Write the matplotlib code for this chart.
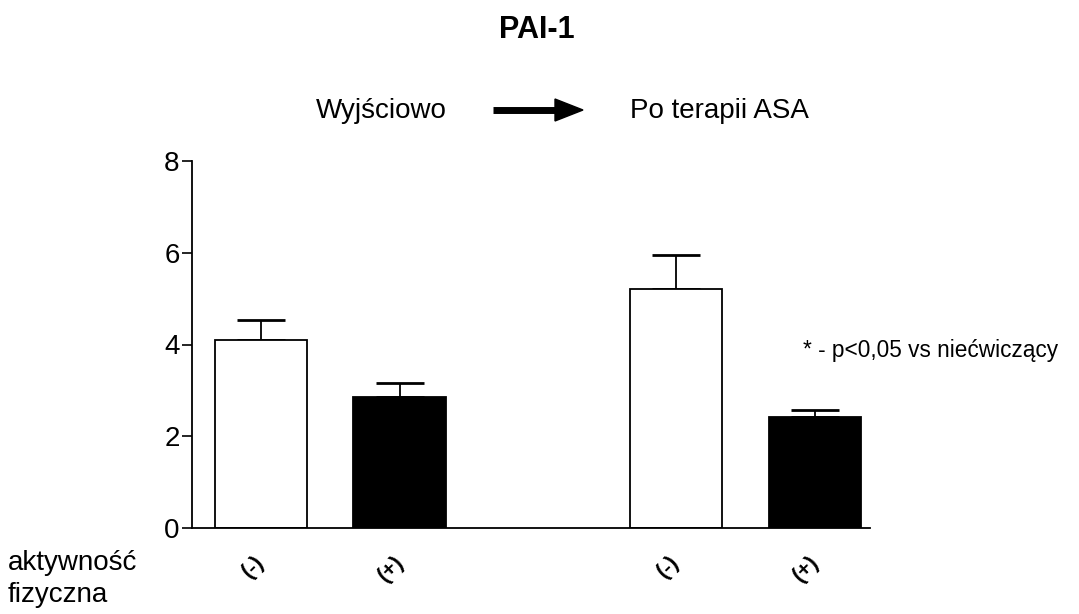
import matplotlib
matplotlib.use("Agg")
import matplotlib.pyplot as plt
import matplotlib.transforms as mtransforms
from matplotlib.patches import Polygon
from matplotlib.lines import Line2D

plt.rcParams['font.family'] = ['Liberation Sans', 'DejaVu Sans']

# data
positions = [1, 2, 4, 5]
values = [4.10, 2.86, 5.22, 2.42]
errors = [0.44, 0.31, 0.74, 0.16]
fills = ['white', 'black', 'white', 'black']
tick_labels = ['(-)', '(+)', '(-)', '(+)']
yticks = [0, 2, 4, 6, 8]

W, H = 1079, 614
fig = plt.figure(figsize=(W / 100, H / 100), dpi=100)
ax = fig.add_axes([192 / W, 1 - 528 / H, (870 - 192) / W, (528 - 161) / H])

ax.bar(positions, values, width=0.667, color=fills, edgecolor='black',
       linewidth=1.3, zorder=2)
ax.errorbar(positions, values, yerr=[[0] * 4, errors], fmt='none',
            ecolor='black', elinewidth=1.3, capsize=17, capthick=2.0, zorder=1)

ax.set_xlim(0.5, 5.4)
ax.set_ylim(0, 8)
ax.set_yticks(yticks)
ax.set_yticklabels([str(t) for t in yticks], fontsize=20)
ax.tick_params(axis='y', length=7, width=1.2, pad=2)
ax.set_xticks(positions)
ax.set_xticklabels(tick_labels, rotation=45, fontsize=16, fontweight='bold',
                   ha='center', va='top')
ax.tick_params(axis='x', length=0, pad=17)
offset = mtransforms.ScaledTranslation(-8 / 100, 0, fig.dpi_scale_trans)
for lab in ax.get_xticklabels():
    lab.set_transform(lab.get_transform() + offset)

for s in ['top', 'right']:
    ax.spines[s].set_visible(False)
for s in ['left', 'bottom']:
    ax.spines[s].set_linewidth(1.3)

def fx(px):
    return px / W

def fy(py):
    return 1 - py / H

fig.text(fx(537), fy(38), 'PAI-1', fontsize=22, fontweight='bold',
         ha='center', va='baseline')
fig.text(fx(381), fy(118), 'Wyjściowo', fontsize=20, ha='center', va='baseline')
fig.text(fx(719), fy(118), 'Po terapii ASA', fontsize=20, ha='center', va='baseline')

# arrow
fig.add_artist(Line2D([fx(493), fx(560)], [fy(110), fy(110)], lw=5,
                      color='black', transform=fig.transFigure,
                      solid_capstyle='butt'))
fig.add_artist(Polygon([[fx(555), fy(99)], [fx(583), fy(110)], [fx(555), fy(121)]],
                       closed=True, color='black', transform=fig.transFigure))

ax.set_ylabel('[ng/ml]', fontsize=20)
ax.yaxis.label.set_transform(fig.transFigure)
ax.yaxis.label.set_position((fx(112), fy(345)))
ax.yaxis.label.set_va('center')
ax.yaxis.label.set_ha('center')

fig.text(fx(803), fy(350), '* - p<0,05 vs niećwiczący', fontsize=16.3,
         ha='left', va='center')
fig.text(fx(8), fy(570), 'aktywność', fontsize=20, ha='left', va='baseline')
fig.text(fx(8), fy(602), 'fizyczna', fontsize=20, ha='left', va='baseline')

fig.savefig('out.png', dpi=100)
